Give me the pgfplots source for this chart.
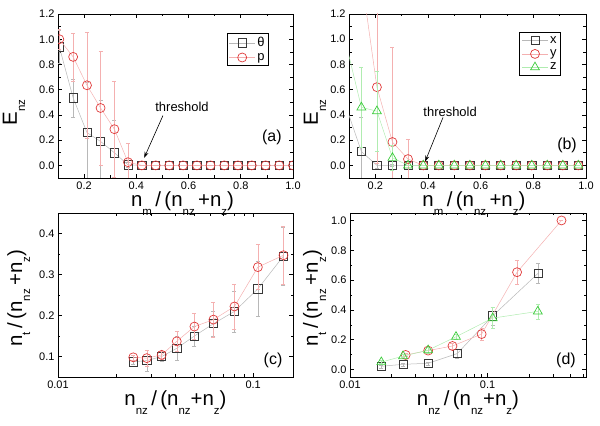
\documentclass[border=0pt]{standalone}
\usepackage{fontspec}
\setmainfont{Liberation Sans}
\usepackage{pgfplots}
\pgfplotsset{compat=1.18}
\usetikzlibrary{arrows.meta}

\definecolor{dgray}{HTML}{383838}
\definecolor{lgray}{HTML}{B8B8B8}
\definecolor{dred}{HTML}{E03A3A}
\definecolor{lred}{HTML}{F4B0B0}
\definecolor{dgreen}{HTML}{3CCC3C}
\definecolor{lgreen}{HTML}{B0ECB0}

\newcommand{\sub}[1]{\raisebox{-0.40em}{\fontsize{11.5}{12}\selectfont #1}}

\pgfplotsset{
  panel/.style={
    scale only axis, width=235bp, height=164bp, anchor=south west,
    axis line style={line width=0.8bp},
    tick align=inside, major tick length=4bp, minor tick length=2.5bp,
    every tick/.style={black, line width=0.6bp},
    tick label style={font=\fontsize{11}{12}\selectfont},
    xticklabel style={inner sep=1bp, yshift=-2.6bp},
    /pgf/number format/assume math mode=true,
    /pgf/number format/fixed, /pgf/number format/fixed zerofill,
    /pgf/number format/precision=1,
    label style={font=\fontsize{20.5}{24}\selectfont},
    xlabel style={anchor=base, inner sep=0pt, at={(axis description cs:0.5,0)}, yshift=-29bp},
    clip marker paths=true,
    legend style={draw=black, line width=0.8bp, font=\fontsize{13}{13}\selectfont,
      anchor=north east, inner sep=2bp, row sep=1bp, cells={anchor=west}},
    legend image code/.code={\draw[mark repeat=2,mark phase=2]
      plot coordinates {(0bp,0bp)(13bp,0bp)(26bp,0bp)};},
  },
  sq/.style={color=lgray, line width=0.5bp, mark=square, mark size=4.1bp,
    mark options={color=dgray, line width=0.7bp},
    error bars/.cd, y dir=both, y explicit,
    error bar style={lgray, line width=0.5bp},
    error mark options={rotate=90, mark size=2bp, lgray, line width=0.5bp}},
  ci/.style={color=lred, line width=0.5bp, mark=o, mark size=4.5bp,
    mark options={color=dred, line width=0.7bp},
    error bars/.cd, y dir=both, y explicit,
    error bar style={lred, line width=0.5bp},
    error mark options={rotate=90, mark size=2bp, lred, line width=0.5bp}},
  tr/.style={color=lgreen, line width=0.5bp, mark=triangle, mark size=5.1bp,
    mark options={color=dgreen, line width=0.7bp},
    error bars/.cd, y dir=both, y explicit,
    error bar style={lgreen, line width=0.5bp},
    error mark options={rotate=90, mark size=2bp, lgreen, line width=0.5bp}},
}

\begin{document}
\begin{tikzpicture}
\useasboundingbox (0,0) rectangle (600bp,426bp);

% (a)
\begin{axis}[panel, at={(58bp,248bp)},
  xmin=0.1, xmax=1.0, ymin=-0.1, ymax=1.2,
  xtick={0.2,0.4,0.6,0.8,1.0}, minor x tick num=1,
  ytick={0,0.2,0.4,0.6,0.8,1.0,1.2}, minor y tick num=1,
  xlabel={n\sub{m}\,/\,(n\sub{nz}\,+n\sub{z})},
  xlabel style={at={(axis description cs:0.53,0)}},
  ylabel={E\sub{nz}},
  ylabel style={anchor=base, at={(axis description cs:-0.1745,0.40)}},
  legend style={at={(axis description cs:0.898,0.884)}},
]
\addplot[sq] coordinates {
  (0.105,0.94) +- (0,0.13) (0.158,0.535) +- (0,0.15) (0.211,0.26) +- (0,0.40)
  (0.263,0.19) +- (0,0.33) (0.316,0.10) +- (0,0.26) (0.368,0.005) +- (0,0.02)
  (0.421,0) +- (0,0) (0.474,0) +- (0,0) (0.526,0) +- (0,0) (0.579,0) +- (0,0)
  (0.632,0) +- (0,0) (0.684,0) +- (0,0) (0.737,0) +- (0,0) (0.789,0) +- (0,0)
  (0.842,0) +- (0,0) (0.895,0) +- (0,0) (0.947,0) +- (0,0) (1.0,0) +- (0,0)};
\addlegendentry{θ}
\addplot[ci] coordinates {
  (0.105,1.0) +- (0,0.08) (0.158,0.86) +- (0,0.19) (0.211,0.635) +- (0,0.42)
  (0.263,0.455) +- (0,0.45) (0.316,0.287) +- (0,0.38) (0.368,0.025) +- (0,0.15)
  (0.421,0) +- (0,0) (0.474,0) +- (0,0) (0.526,0) +- (0,0) (0.579,0) +- (0,0)
  (0.632,0) +- (0,0) (0.684,0) +- (0,0) (0.737,0) +- (0,0) (0.789,0) +- (0,0)
  (0.842,0) +- (0,0) (0.895,0) +- (0,0) (0.947,0) +- (0,0) (1.0,0) +- (0,0)};
\addlegendentry{p}
\node[font=\fontsize{13}{13}\selectfont] at (axis cs:0.575,0.466) {threshold};
\draw[-{Stealth[length=6bp,width=4bp]}, line width=0.6bp] (axis cs:0.502,0.395) -- (axis cs:0.43,0.06);
\node[font=\fontsize{16}{16}\selectfont] at (axis description cs:0.91,0.25) {(a)};
\end{axis}

% (b)
\begin{axis}[panel, at={(349bp,248bp)}, width=237bp,
  xmin=0.1, xmax=1.0, ymin=-0.1, ymax=1.2,
  xtick={0.2,0.4,0.6,0.8,1.0}, minor x tick num=1,
  ytick={0,0.2,0.4,0.6,0.8,1.0,1.2}, minor y tick num=1,
  xlabel={n\sub{m}\,/\,(n\sub{nz}\,+n\sub{z})},
  xlabel style={at={(axis description cs:0.527,0)}},
  ylabel={E\sub{nz}},
  ylabel style={anchor=base, at={(axis description cs:-0.131,0.40)}},
  legend style={at={(axis description cs:0.895,0.89)}},
]
% segments that come in from outside the axis (markers out of range)
\addplot[lgray, line width=0.5bp, no markers, forget plot] coordinates {(0.088,0.47) (0.147,0.11)};
\addplot[lred, line width=0.5bp, no markers, forget plot] coordinates {(0.088,2.4) (0.147,1.5) (0.206,0.62)};
\addplot[lgreen, line width=0.5bp, no markers, forget plot] coordinates {(0.088,0.97) (0.147,0.46)};
\addplot[sq] coordinates {
  (0.147,0.11) +- (0,0.27) (0.206,0) +- (0,0.02)
  (0.265,0) +- (0,0.01) (0.324,0) +- (0,0) (0.382,0) +- (0,0) (0.441,0) +- (0,0)
  (0.5,0) +- (0,0) (0.559,0) +- (0,0) (0.618,0) +- (0,0) (0.676,0) +- (0,0)
  (0.735,0) +- (0,0) (0.794,0) +- (0,0) (0.853,0) +- (0,0) (0.912,0) +- (0,0)
  (0.971,0) +- (0,0)};
\addlegendentry{x}
\addplot[ci] coordinates {
  (0.206,0.62) +- (0,0.6)
  (0.265,0.185) +- (0,0.75) (0.324,0.05) +- (0,0.16) (0.382,0) +- (0,0) (0.441,0) +- (0,0)
  (0.5,0) +- (0,0) (0.559,0) +- (0,0) (0.618,0) +- (0,0) (0.676,0) +- (0,0)
  (0.735,0) +- (0,0) (0.794,0) +- (0,0) (0.853,0) +- (0,0) (0.912,0) +- (0,0)
  (0.971,0) +- (0,0)};
\addlegendentry{y}
\addplot[tr] coordinates {
  (0.147,0.46) +- (0,0.32) (0.206,0.43) +- (0,0.32)
  (0.265,0.06) +- (0,0.1) (0.324,0) +- (0,0) (0.382,0) +- (0,0) (0.441,0) +- (0,0)
  (0.5,0) +- (0,0) (0.559,0) +- (0,0) (0.618,0) +- (0,0) (0.676,0) +- (0,0)
  (0.735,0) +- (0,0) (0.794,0) +- (0,0) (0.853,0) +- (0,0) (0.912,0) +- (0,0)
  (0.971,0) +- (0,0)};
\addlegendentry{z}
\node[font=\fontsize{13}{13}\selectfont] at (axis cs:0.484,0.426) {threshold};
\draw[-{Stealth[length=6bp,width=4bp]}, line width=0.6bp] (axis cs:0.457,0.38) -- (axis cs:0.389,0.03);
\node[font=\fontsize{16}{16}\selectfont] at (axis description cs:0.92,0.20) {(b)};
\end{axis}

% (c)
\begin{axis}[panel, at={(58bp,49bp)},
  xmode=log, xmin=0.01, xmax=0.16, ymin=0.05, ymax=0.45,
  xtick={0.01,0.1}, xticklabels={0.01,0.1},
  minor xtick={0.02,0.03,0.04,0.05,0.06,0.07,0.08,0.09},
  ytick={0.1,0.2,0.3,0.4}, minor y tick num=1,
  xlabel={n\sub{nz}\,/\,(n\sub{nz}+n\sub{z})},
  ylabel={n\sub{t}\,/\,(n\sub{nz}\,+n\sub{z})},
  ylabel style={anchor=base, at={(axis description cs:-0.153,0.48)}},
]
\addplot[sq] coordinates {
  (0.0243,0.087) +- (0,0.005) (0.0285,0.09) +- (0,0.025) (0.0340,0.10) +- (0,0.012)
  (0.0406,0.12) +- (0,0.03) (0.050,0.15) +- (0,0.025) (0.0626,0.18) +- (0,0.03)
  (0.0802,0.21) +- (0,0.05) (0.1057,0.265) +- (0,0.067) (0.143,0.345) +- (0,0.07)};
\addplot[ci] coordinates {
  (0.0243,0.098) +- (0,0.006) (0.0285,0.096) +- (0,0.02) (0.0340,0.104) +- (0,0.01)
  (0.0406,0.137) +- (0,0.025) (0.050,0.173) +- (0,0.032) (0.0626,0.19) +- (0,0.042)
  (0.0802,0.222) +- (0,0.055) (0.1057,0.318) +- (0,0.055) (0.143,0.347) +- (0,0.07)};
\node[font=\fontsize{16}{16}\selectfont] at (axis description cs:0.915,0.10) {(c)};
\end{axis}

% (d)
\begin{axis}[panel, at={(350bp,49bp)}, width=236bp,
  xmode=log, xmin=0.01, xmax=0.52, ymin=-0.05, ymax=1.05,
  xtick={0.01,0.1}, xticklabels={0.01,0.1},
  minor xtick={0.02,0.03,0.04,0.05,0.06,0.07,0.08,0.09,0.2,0.3,0.4,0.5},
  ytick={0,0.2,0.4,0.6,0.8,1.0}, minor y tick num=1,
  xlabel={n\sub{nz}\,/\,(n\sub{nz}+n\sub{z})},
  ylabel={n\sub{t}\,/\,(n\sub{nz}\,+n\sub{z})},
  ylabel style={anchor=base, at={(axis description cs:-0.136,0.48)}},
]
\addplot[sq] coordinates {
  (0.0169,0.022) +- (0,0.01) (0.0243,0.035) +- (0,0.01) (0.0370,0.042) +- (0,0.01)
  (0.0602,0.107) +- (0,0.03) (0.109,0.36) +- (0,0.06) (0.233,0.645) +- (0,0.065)};
\addplot[ci] coordinates {
  (0.0254,0.098) +- (0,0.01) (0.037,0.127) +- (0,0.02) (0.0556,0.158) +- (0,0.02)
  (0.0906,0.238) +- (0,0.04) (0.164,0.653) +- (0,0.08) (0.345,1.0) +- (0,0)};
\addplot[tr] coordinates {
  (0.0169,0.05) +- (0,0.01) (0.0243,0.09) +- (0,0.01) (0.037,0.13) +- (0,0.02)
  (0.059,0.22) +- (0,0.02) (0.109,0.345) +- (0,0.07) (0.232,0.39) +- (0,0.05)};
\node[font=\fontsize{16}{16}\selectfont] at (axis description cs:0.915,0.10) {(d)};
\end{axis}
\end{tikzpicture}
\end{document}
